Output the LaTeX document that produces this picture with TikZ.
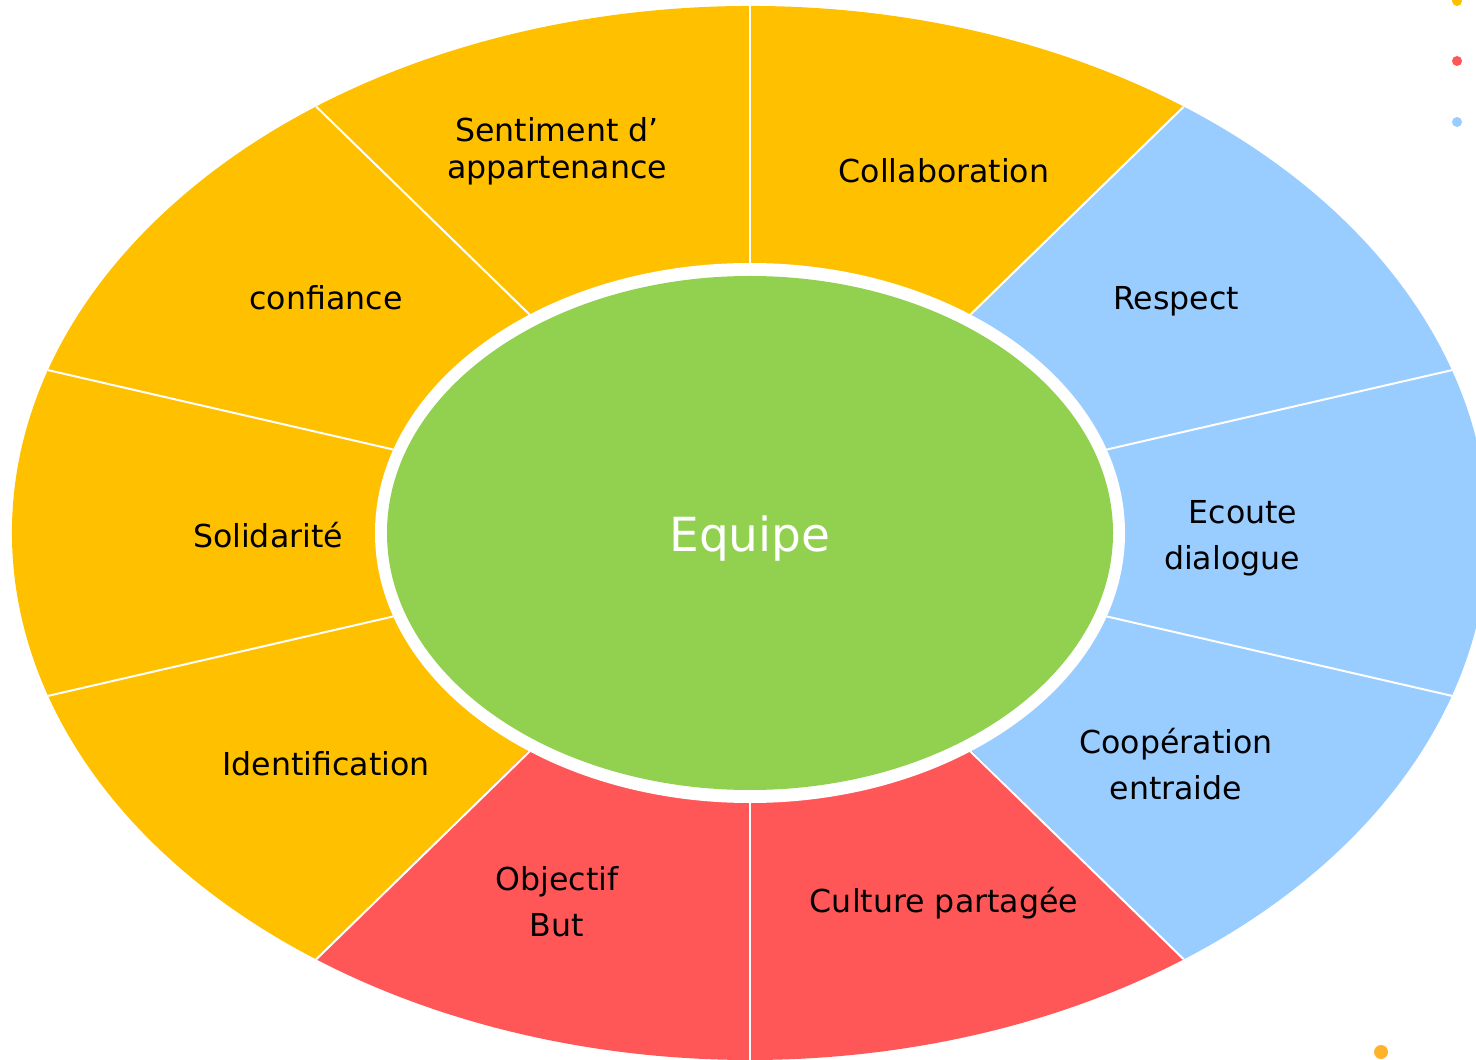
\documentclass[tikz,border=0pt]{standalone}
\usepackage{fontspec}
\setmainfont{DejaVu Sans}
\usetikzlibrary{positioning}

\definecolor{segyellow}{HTML}{FFC000}
\definecolor{segred}{HTML}{FF5757}
\definecolor{segblue}{HTML}{99CCFF}
\definecolor{coregreen}{HTML}{92D050}
\definecolor{dotorange}{HTML}{FFB32B}

\tikzset{
    seglabel/.style={align=center, text=black, font=\fontsize{15.8}{23}\selectfont},% ring texts
    corelabel/.style={text=white, font=\fontsize{23.5}{28}\selectfont},%
    divider/.style={draw=white, line width=1pt}%
}

\begin{document}
\begin{tikzpicture}[x=0.5pt, y=0.5pt]
    \useasboundingbox (-750,-526) rectangle (726,533);
    \clip (-750,-526) rectangle (726,533);

    %%% outer ring, one fill per colour group
    \fill[segyellow] (0,0) -- (54:738 and 527)
    arc [start angle=54, end angle=234, x radius=738, y radius=527] -- cycle;
    \fill[segblue] (0,0) -- (-54:738 and 527)
    arc [start angle=-54, end angle=54, x radius=738, y radius=527] -- cycle;
    \fill[segred] (0,0) -- (234:738 and 527)
    arc [start angle=234, end angle=306, x radius=738, y radius=527] -- cycle;

    %%% white dividers between the ten sectors
    \draw[divider] (90:375 and 270) -- (90:738 and 527);
    \draw[divider] (126:375 and 270) -- (126:738 and 527);
    \draw[divider] (162:375 and 270) -- (162:738 and 527);
    \draw[divider] (198:375 and 270) -- (198:738 and 527);
    \draw[divider] (234:375 and 270) -- (234:738 and 527);
    \draw[divider] (270:375 and 270) -- (270:738 and 527);
    \draw[divider] (306:375 and 270) -- (306:738 and 527);
    \draw[divider] (342:375 and 270) -- (342:738 and 527);
    \draw[divider] (18:375 and 270) -- (18:738 and 527);
    \draw[divider] (54:375 and 270) -- (54:738 and 527);

    %%% core with its white rim
    \fill[white] (0,0) ellipse [x radius=375, y radius=270];
    \fill[coregreen] (0,0) ellipse [x radius=363, y radius=257];
    \node[corelabel] (equipe) at (0,-6) {Equipe};

    %%% yellow sectors
    \node[seglabel, font=\fontsize{15.8}{18.5}\selectfont] (sentiment) at (-193,382) {Sentiment d’\\appartenance};
    \node[seglabel] (collab) at (194,362) {Collaboration};
    \node[seglabel] (confiance) at (-424,235) {confiance};
    \node[seglabel] (solidarite) at (-482,-2) {Solidarité};
    \node[seglabel] (identif) at (-424,-231) {Identification};

    %%% blue sectors
    \node[seglabel] (respect) at (426,232) {Respect};
    \node[seglabel] (ecoute) at (482,-5) {\hspace*{11pt}Ecoute\\dialogue};
    \node[seglabel] (coop) at (426,-231) {Coopération\\entraide};

    %%% red sectors
    \node[seglabel] (culture) at (194,-370) {Culture partagée};
    \node[seglabel] (objectif) at (-193,-369) {Objectif\\But};

    %%% stray legend dots
    \fill[segyellow] (707,532) circle [radius=5];
    \fill[segred] (707,472) circle [radius=5];
    \fill[segblue] (707,411) circle [radius=5];
    \fill[dotorange] (631,-519) circle [radius=7];
\end{tikzpicture}
\end{document}
